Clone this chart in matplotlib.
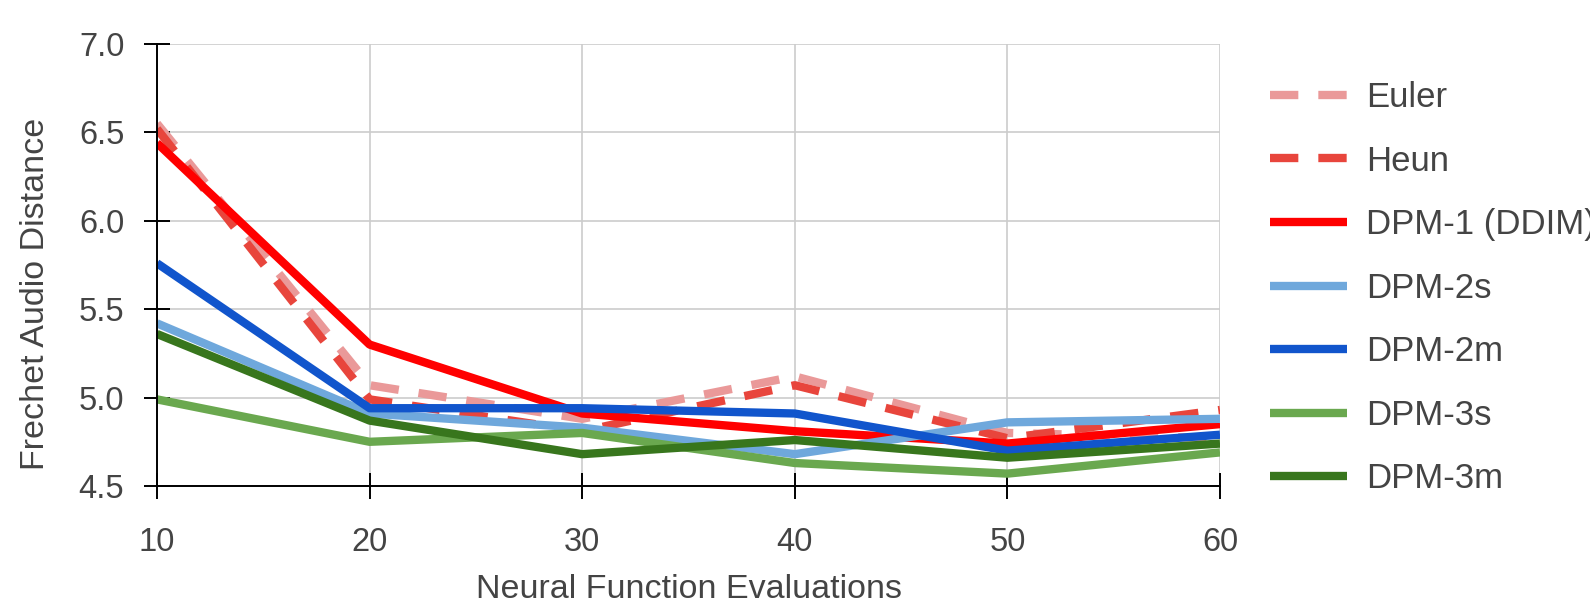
import matplotlib
matplotlib.use("Agg")
import matplotlib.pyplot as plt

plt.rcParams['font.family'] = ['Liberation Sans', 'DejaVu Sans']

nfe = [10, 20, 30, 40, 50, 60]
euler = [6.55, 5.07, 4.88, 5.12, 4.80, 4.77]
heun = [6.52, 4.99, 4.81, 5.07, 4.77, 4.93]
dpm1 = [6.44, 5.30, 4.91, 4.81, 4.74, 4.85]
dpm2s = [5.42, 4.91, 4.83, 4.68, 4.86, 4.88]
dpm2m = [5.76, 4.94, 4.94, 4.91, 4.70, 4.79]
dpm3s = [4.99, 4.75, 4.80, 4.63, 4.57, 4.69]
dpm3m = [5.36, 4.87, 4.68, 4.76, 4.66, 4.74]

series = [
    ("Euler", euler, "#ea9999", "dashed"),
    ("Heun", heun, "#e8453c", "dashed"),
    ("DPM-1 (DDIM)", dpm1, "#ff0000", "solid"),
    ("DPM-2s", dpm2s, "#6fa8dc", "solid"),
    ("DPM-2m", dpm2m, "#1155cc", "solid"),
    ("DPM-3s", dpm3s, "#6aa84f", "solid"),
    ("DPM-3m", dpm3m, "#38761d", "solid"),
]

fig = plt.figure(figsize=(15.9, 6.05), dpi=100)
ax = fig.add_axes([157/1590, 1-486/605, (1220-157)/1590, (486-44)/605])

for name, vals, col, ls in series:
    line, = ax.plot(nfe, vals, color=col, lw=6, label=name, solid_capstyle='butt')
    if ls == "dashed":
        line.set_dashes([3.4, 2.4])

ax.set_xlim(10, 60)
ax.set_ylim(4.5, 7.0)
ax.set_xticks(nfe)
ax.set_yticks([4.5, 5.0, 5.5, 6.0, 6.5, 7.0])
ax.set_yticklabels(["4.5", "5.0", "5.5", "6.0", "6.5", "7.0"])
ax.grid(True, color="#cccccc", lw=1.2)
ax.set_axisbelow(True)
for s in ["top", "right"]:
    ax.spines[s].set_visible(False)
for s in ["left", "bottom"]:
    ax.spines[s].set_linewidth(1.4)
ax.tick_params(axis='both', direction='inout', length=19, width=1.4,
               labelsize=23.5, labelcolor="#444444")
ax.tick_params(axis='y', pad=14)
ax.tick_params(axis='x', pad=20)

ax.set_xlabel("Neural Function Evaluations", fontsize=24.5, color="#444444")
ax.set_ylabel("Frechet Audio Distance", fontsize=24.5, color="#444444")
ax.xaxis.set_label_coords(0.5, -0.2)
ax.yaxis.set_label_coords(-0.1, 0.434)

# legend sits to the right; the longest label runs off the edge like the original
fig.legend(loc='upper left', bbox_to_anchor=(1270/1590, 1-81/605),
           frameon=False, fontsize=25, handlelength=2.22, handletextpad=0.55,
           labelspacing=0.88, borderpad=0, borderaxespad=0)
for t in fig.legends[0].get_texts():
    t.set_color("#444444")

fig.savefig("out.png", dpi=100)
